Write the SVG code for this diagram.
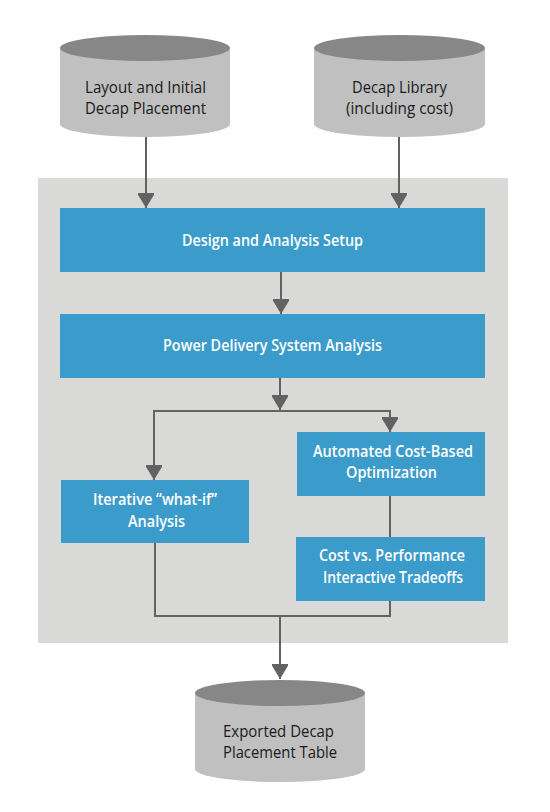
<svg xmlns="http://www.w3.org/2000/svg" width="550" height="812" viewBox="0 0 550 812">
<defs>
<style>
.bg{fill:#d9d9d8}
.box{fill:#3b9ccb}
.cylb{fill:#c0c0c0}
.cylt{fill:#878787}
.ln{fill:none;stroke:#626262;stroke-width:2}
.bt{font-family:"Open Sans","Liberation Sans",sans-serif;font-size:17px;font-weight:600;fill:#ffffff;text-anchor:middle}
.ct{font-family:"Open Sans","Liberation Sans",sans-serif;font-size:17px;font-weight:400;fill:#1a1a1a;text-anchor:middle}
</style>
<marker id="ah" markerUnits="userSpaceOnUse" markerWidth="20" markerHeight="16" refX="15" refY="8" orient="auto">
<path d="M0,-1 L15,8 L0,17 Z" fill="#626262"/>
</marker>
</defs>
<rect width="550" height="812" fill="#ffffff"/>
<rect class="bg" x="38" y="178" width="470" height="465"/>

<g id="connectors">
<line class="ln" x1="146" y1="137" x2="146" y2="208" marker-end="url(#ah)"/>
<line class="ln" x1="399" y1="137" x2="399" y2="208" marker-end="url(#ah)"/>
<line class="ln" x1="281" y1="272" x2="281" y2="314" marker-end="url(#ah)"/>
<line class="ln" x1="280" y1="378" x2="280" y2="410" marker-end="url(#ah)"/>
<polyline class="ln" points="280,411 154,411 154,480" marker-end="url(#ah)"/>
<polyline class="ln" points="280,411 390,411 390,432" marker-end="url(#ah)"/>
<line class="ln" x1="390" y1="496" x2="390" y2="537"/>
<polyline class="ln" points="155,543 155,616 390,616 390,601"/>
<line class="ln" x1="280" y1="616" x2="280" y2="679" marker-end="url(#ah)"/>
</g>

<g id="layout-db">
<path class="cylb" d="M60,48 L60,124 A85,13 0 0 0 230,124 L230,48 Z"/>
<ellipse class="cylt" cx="145" cy="48" rx="85" ry="13"/>
<text class="ct" x="145.5" y="93" textLength="121" lengthAdjust="spacingAndGlyphs">Layout and Initial</text>
<text class="ct" x="145.5" y="114" textLength="121" lengthAdjust="spacingAndGlyphs">Decap Placement</text>
</g>

<g id="library-db">
<path class="cylb" d="M314,48 L314,124 A85.5,13 0 0 0 485,124 L485,48 Z"/>
<ellipse class="cylt" cx="399.5" cy="48" rx="85.5" ry="13"/>
<text class="ct" x="399.5" y="93" textLength="95" lengthAdjust="spacingAndGlyphs">Decap Library</text>
<text class="ct" x="399.5" y="114" textLength="107" lengthAdjust="spacingAndGlyphs">(including cost)</text>
</g>

<g id="setup">
<rect class="box" x="60" y="208" width="425" height="64"/>
<text class="bt" x="272.5" y="246" textLength="181" lengthAdjust="spacingAndGlyphs">Design and Analysis Setup</text>
</g>

<g id="pds">
<rect class="box" x="60" y="314" width="425" height="64"/>
<text class="bt" x="272.5" y="351" textLength="219" lengthAdjust="spacingAndGlyphs">Power Delivery System Analysis</text>
</g>

<g id="whatif">
<rect class="box" x="61" y="480" width="188" height="63"/>
<text class="bt" x="155" y="505" textLength="124" lengthAdjust="spacingAndGlyphs">Iterative “what-if”</text>
<text class="bt" x="156.5" y="527" textLength="57" lengthAdjust="spacingAndGlyphs">Analysis</text>
</g>

<g id="autoopt">
<rect class="box" x="297" y="432" width="188" height="64"/>
<text class="bt" x="393" y="457" textLength="160" lengthAdjust="spacingAndGlyphs">Automated Cost-Based</text>
<text class="bt" x="391.5" y="478" textLength="91" lengthAdjust="spacingAndGlyphs">Optimization</text>
</g>

<g id="tradeoffs">
<rect class="box" x="296" y="537" width="189" height="64"/>
<text class="bt" x="392" y="561" textLength="146" lengthAdjust="spacingAndGlyphs">Cost vs. Performance</text>
<text class="bt" x="393" y="583" textLength="140" lengthAdjust="spacingAndGlyphs">Interactive Tradeoffs</text>
</g>

<g id="export-db">
<path class="cylb" d="M195,693 L195,769 A85,13 0 0 0 365,769 L365,693 Z"/>
<ellipse class="cylt" cx="280" cy="693" rx="85" ry="13"/>
<text class="ct" x="278.5" y="737" textLength="111" lengthAdjust="spacingAndGlyphs">Exported Decap</text>
<text class="ct" x="280" y="758" textLength="114" lengthAdjust="spacingAndGlyphs">Placement Table</text>
</g>
</svg>
